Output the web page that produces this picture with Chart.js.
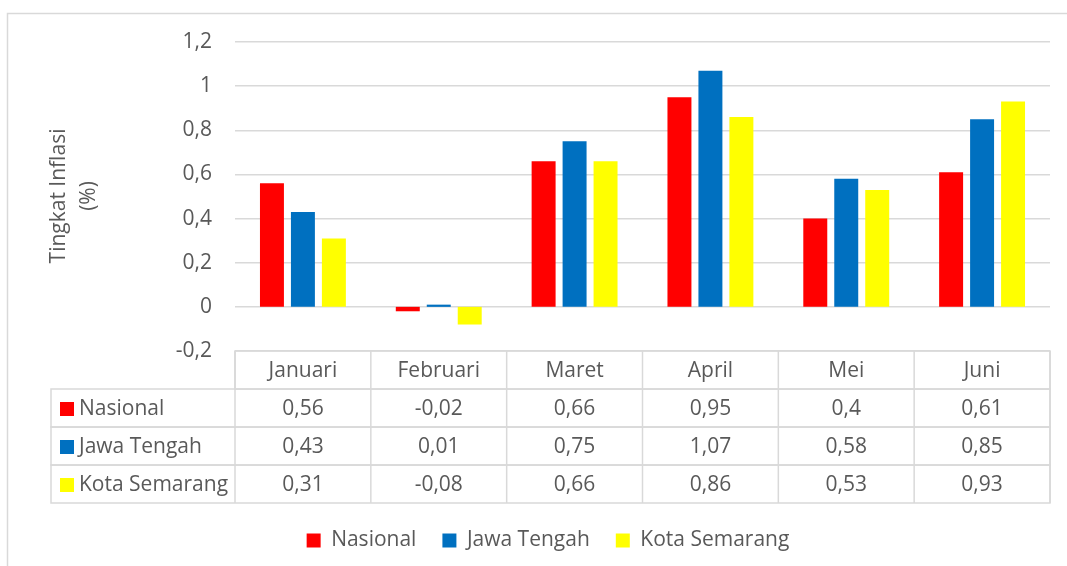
<!DOCTYPE html>
<html>
<head>
<meta charset="utf-8">
<script src="https://cdn.jsdelivr.net/npm/chart.js@4.4.1/dist/chart.umd.min.js"></script>
<style>
    html, body { margin: 0; padding: 0; background: #fff; }
    #wrap { width: 1067px; height: 566px; position: relative; }
</style>
</head>
<body>
<div id="wrap"><canvas id="inflasi-chart"></canvas></div>
<script>
const months = ['Januari', 'Februari', 'Maret', 'April', 'Mei', 'Juni'];
const nasional = [0.56, -0.02, 0.66, 0.95, 0.4, 0.61];
const jawaTengah = [0.43, 0.01, 0.75, 1.07, 0.58, 0.85];
const kotaSemarang = [0.31, -0.08, 0.66, 0.86, 0.53, 0.93];
const seriesNames = ['Nasional', 'Jawa Tengah', 'Kota Semarang'];
const seriesColors = ['#FF0000', '#0070C0', '#FFFF00'];
const yTitle = ['Tingkat Inflasi', '(%)'];

const textColor = '#595959';
const lineColor = '#D9D9D9';
const fontFamily = '"Open Sans", sans-serif';
const fontSize = 21;
const rowHeight = 38;

function fmt(v) {
    return String(Math.round(v * 100) / 100).replace('.', ',');
}

// data table under the plot + outer frame + rotated axis title
const tablePlugin = {
    id: 'dataTable',
    beforeDraw(chart) {
        const ctx = chart.ctx;
        ctx.save();
        ctx.strokeStyle = lineColor;
        ctx.lineWidth = 1.5;
        ctx.strokeRect(7.5, 13.5, 1200, 700);
        ctx.restore();
    },
    afterDraw(chart) {
        const ctx = chart.ctx;
        const area = chart.chartArea;
        const x = chart.scales.x;
        const colW = (area.right - area.left) / months.length;
        const top = area.bottom;
        const tableLeft = 51;
        const series = chart.data.datasets;

        ctx.save();
        ctx.strokeStyle = lineColor;
        ctx.lineWidth = 1.5;

        // header row
        ctx.strokeRect(area.left, top, area.right - area.left, rowHeight);
        // data rows
        for (let r = 0; r < series.length; r++) {
            const y = top + rowHeight * (r + 1);
            ctx.strokeRect(tableLeft, y, area.right - tableLeft, rowHeight);
        }
        // column lines
        ctx.beginPath();
        for (let i = 0; i <= months.length; i++) {
            const cx = area.left + colW * i;
            ctx.moveTo(cx, top);
            ctx.lineTo(cx, top + rowHeight * (series.length + 1));
        }
        ctx.stroke();

        ctx.font = fontSize + 'px ' + fontFamily;
        ctx.fillStyle = textColor;
        ctx.textBaseline = 'middle';
        ctx.textAlign = 'center';
        months.forEach((m, i) => {
            ctx.fillText(m, x.getPixelForTick(i), top + rowHeight / 2 + 1);
        });

        series.forEach((ds, r) => {
            const cy = top + rowHeight * (r + 1.5) + 1;
            ctx.fillStyle = ds.backgroundColor;
            ctx.fillRect(tableLeft + 9, cy - 7, 14, 14);
            ctx.fillStyle = textColor;
            ctx.textAlign = 'left';
            ctx.fillText(ds.label, tableLeft + 28, cy);
            ctx.textAlign = 'center';
            ds.data.forEach((v, i) => {
                ctx.fillText(fmt(v), x.getPixelForTick(i), cy);
            });
        });

        // y axis title, two lines rotated
        ctx.translate(74, 196);
        ctx.rotate(-Math.PI / 2);
        ctx.textAlign = 'center';
        ctx.fillText(yTitle[0], 0, -15);
        ctx.fillText(yTitle[1], 0, 15);
        ctx.restore();
    }
};

const datasets = [nasional, jawaTengah, kotaSemarang].map((data, i) => ({
    label: seriesNames[i],
    data: data,
    backgroundColor: seriesColors[i],
    categoryPercentage: 0.684,
    barPercentage: 0.774
}));

new Chart(document.getElementById('inflasi-chart'), {
    type: 'bar',
    data: { labels: months, datasets: datasets },
    plugins: [tablePlugin],
    options: {
        responsive: true,
        maintainAspectRatio: false,
        animation: false,
        layout: { padding: { left: 46, right: 17, top: 42, bottom: 5 } },
        plugins: {
            tooltip: { enabled: false },
            legend: {
                position: 'bottom',
                labels: {
                    boxWidth: 14,
                    boxHeight: 14,
                    padding: 26,
                    color: textColor,
                    font: { family: fontFamily, size: fontSize }
                }
            }
        },
        scales: {
            x: {
                ticks: { display: false },
                grid: { display: false },
                border: { display: false },
                afterFit(scale) { scale.height = 153; }
            },
            y: {
                min: -0.2,
                max: 1.2,
                ticks: {
                    stepSize: 0.2,
                    padding: 23,
                    color: textColor,
                    font: { family: fontFamily, size: fontSize },
                    callback: v => fmt(v)
                },
                grid: { color: lineColor, lineWidth: 1.5, drawTicks: false },
                border: { display: false },
                afterFit(scale) { scale.width = 189; }
            }
        }
    }
});
</script>
</body>
</html>
